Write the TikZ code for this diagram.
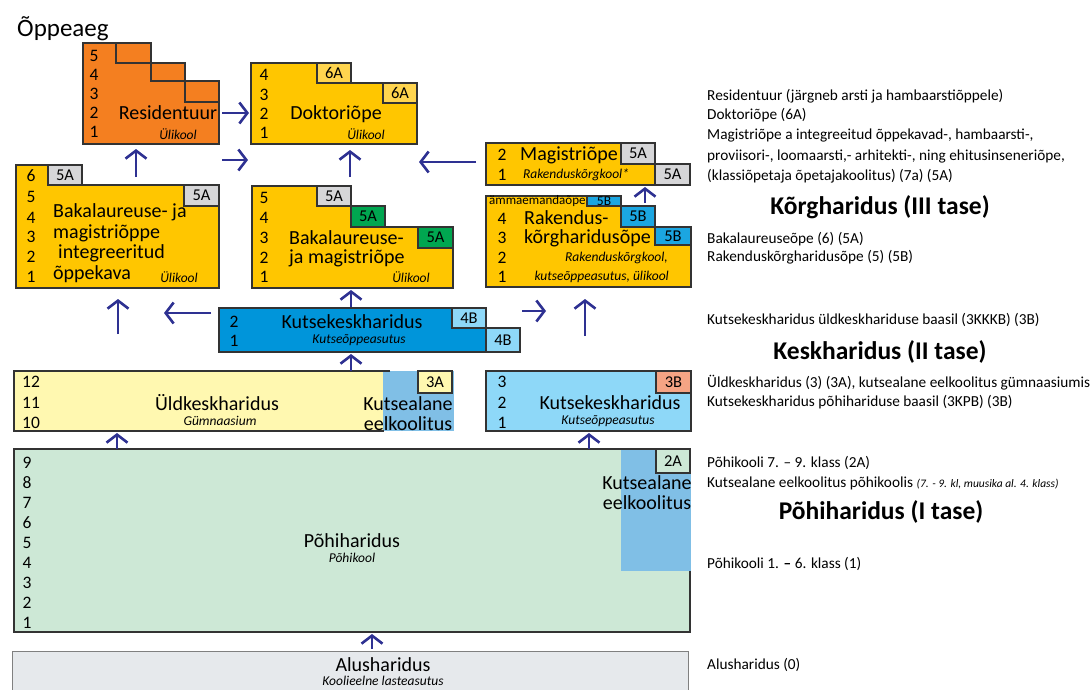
\documentclass[tikz,border=0pt]{standalone}
\usepackage{fontspec}
\setmainfont{Carlito}
\usetikzlibrary{arrows.meta}
\definecolor{bordc}{HTML}{333333}
\definecolor{orangec}{HTML}{F47F20}
\definecolor{goldc}{HTML}{FFC600}
\definecolor{goldlt}{HTML}{FFD54F}
\definecolor{grayb}{HTML}{D6D6D8}
\definecolor{greenb}{HTML}{00A650}
\definecolor{bluec}{HTML}{0095DA}
\definecolor{bluelt}{HTML}{8ED8F8}
\definecolor{blueb}{HTML}{1BA6E1}
\definecolor{paley}{HTML}{FFF8B0}
\definecolor{overb}{HTML}{80BFE6}
\definecolor{salmon}{HTML}{F5A484}
\definecolor{paleg}{HTML}{CDE8D6}
\definecolor{alusc}{HTML}{E6E9EC}
\definecolor{arrc}{HTML}{2E3192}
\begin{document}
\begin{tikzpicture}[x=1pt,y=-1pt,
  boxline/.style={draw=bordc,line width=1.2pt},
  badge/.style={draw=bordc,line width=1.4pt},
  btxt/.style={font=\fontsize{16.5}{17}\selectfont,inner sep=0pt},
  num/.style={font=\fontsize{17.5}{18}\selectfont,inner sep=0pt},
  big/.style={font=\fontsize{20}{21}\selectfont,inner sep=0pt},
  inst/.style={font=\fontsize{13.5}{14}\selectfont\itshape,inner sep=0pt},
  rtxt/.style={font=\fontsize{15.3}{16}\selectfont,anchor=west,inner sep=0pt},
  rhead/.style={font=\fontsize{25.5}{27}\selectfont\bfseries,inner sep=0pt},
  arr/.style={draw=arrc,line width=2.6pt,-{Straight Barb[length=8pt,width=21pt]}}
]
\useasboundingbox (0,0) rectangle (1092,689);
\clip (0,0) rectangle (1092,689);

\node[font=\fontsize{25}{27}\selectfont,anchor=west,inner sep=0pt] (title) at (17,29) {Õppeaeg};

% ---------- Residentuur
\path[fill=orangec,boxline] (83,43) -- (151,43) -- (151,63) -- (185,63) -- (185,81) -- (219,81) -- (219,144) -- (83,144) -- cycle;
\draw[badge,fill=orangec] (116,43) rectangle (151,63);
\draw[badge,fill=orangec] (151,63) rectangle (185,81);
\draw[badge,fill=orangec] (185,81) rectangle (219,102);
\foreach \n/\y in {5/56,4/75,3/94,2/113,1/132} \node[num] at (94,\y) {\n};
\node[big] (res) at (168,113) {Residentuur};
\node[inst] at (178,134) {Ülikool};

% ---------- Doktoriõpe
\path[fill=goldc,boxline] (251,63) -- (351,63) -- (351,83) -- (417,83) -- (417,144) -- (251,144) -- cycle;
\draw[badge,fill=goldlt] (317,63) rectangle node[btxt]{6A} (351,83);
\draw[badge,fill=goldlt] (383,83) rectangle node[btxt]{6A} (417,103);
\foreach \n/\y in {4/75,3/95,2/114,1/133} \node[num] at (264,\y) {\n};
\node[big] (dok) at (336,114) {Doktoriõpe};
\node[inst] at (366,134) {Ülikool};

% ---------- Magistriõpe
\path[fill=goldc,boxline] (486,143) rectangle (655,185);
\draw[badge,fill=grayb] (621,143) rectangle node[btxt]{5A} (655,164);
\draw[badge,fill=grayb] (655,164) rectangle node[btxt]{5A} (690,185);
\node[num] at (502,155) {2};
\node[num] at (502,175) {1};
\node[big] (mag) at (569,155) {Magistriõpe};
\node[inst] at (576,175) {Rakenduskõrgkool*};

% ---------- Rakenduskõrgharidusõpe
\path[fill=goldc,boxline] (486,196) -- (621,196) -- (621,206) -- (655,206) -- (655,227) -- (691,227) -- (691,287) -- (486,287) -- cycle;
\draw[badge,fill=blueb] (587,196) rectangle node[font=\fontsize{13.5}{13}\selectfont,inner sep=0pt]{5B} (621,206);
\draw[badge,fill=blueb] (621,206) rectangle node[btxt]{5B} (655,227);
\draw[badge,fill=blueb] (655,227) rectangle node[btxt]{5B} (691,245);
\node[font=\fontsize{13}{13}\selectfont,anchor=west,inner sep=0pt] at (489,201) {ämmaemandaõpe};
\foreach \n/\y in {4/219,3/238,2/258,1/277} \node[num] at (502,\y) {\n};
\node[font=\fontsize{20}{19}\selectfont,inner sep=0pt,anchor=west,align=left] (rak) at (524,229) {Rakendus-\\kõrgharidusõpe};
\node[inst,anchor=east] at (668,258) {Rakenduskõrgkool,};
\node[inst,anchor=east] at (669,277) {kutseõppeasutus, ülikool};

% ---------- Bakalaureuse- ja magistriõppe integreeritud õppekava
\path[fill=goldc,boxline] (16,165) -- (82,165) -- (82,185) -- (219,185) -- (219,288) -- (16,288) -- cycle;
\draw[badge,fill=grayb] (48,165) rectangle node[btxt]{5A} (82,185);
\draw[badge,fill=grayb] (184,185) rectangle node[btxt]{5A} (219,206);
\foreach \n/\y in {6/176,5/197,4/218,3/237,2/257,1/277} \node[num] at (31,\y) {\n};
\node[big,anchor=west] (intg) at (53,212) {Bakalaureuse- ja};
\node[big,anchor=west] at (53,233) {magistriõppe};
\node[big,anchor=west] at (58,253) {integreeritud};
\node[big,anchor=west] at (53,274) {õppekava};
\node[inst] at (179,277) {Ülikool};

% ---------- Bakalaureuse- ja magistriõpe
\path[fill=goldc,boxline] (252,186) -- (351,186) -- (351,206) -- (385,206) -- (385,227) -- (453,227) -- (453,288) -- (252,288) -- cycle;
\draw[badge,fill=grayb] (317,186) rectangle node[btxt]{5A} (351,206);
\draw[badge,fill=greenb] (351,206) rectangle node[btxt]{5A} (385,227);
\draw[badge,fill=greenb] (418,227) rectangle node[btxt]{5A} (453,248);
\foreach \n/\y in {5/198,4/218,3/238,2/258,1/277} \node[num] at (264,\y) {\n};
\node[big,anchor=west] (bak) at (289,238) {Bakalaureuse-};
\node[big,anchor=west] at (289,258) {ja magistriõpe};
\node[inst] at (411,277) {Ülikool};

% ---------- Kutsekeskharidus 4B
\path[fill=bluec,boxline] (219,308) rectangle (486,352);
\draw[badge,fill=bluelt] (452,308) rectangle node[btxt]{4B} (486,328);
\draw[badge,fill=bluelt] (486,328) rectangle node[btxt]{4B} (520,352);
\node[num] at (234,322) {2};
\node[num] at (234,341) {1};
\node[big] (kk4) at (352,322) {Kutsekeskharidus};
\node[inst] at (359,340) {Kutseõppeasutus};

% ---------- Üldkeskharidus
\fill[paley] (14,371) rectangle (384,431);
\fill[overb] (383,371) rectangle (454,431);
\draw[boxline] (390,371) -- (14,371) -- (14,431) -- (384,431);
\draw[badge,fill=paley] (418,371) rectangle node[btxt]{3A} (452,393);
\foreach \n/\y in {12/382,11/403,10/423} \node[num] at (31,\y) {\n};
\node[big] (uld) at (217,403) {Üldkeskharidus};
\node[inst] at (220,421) {Gümnaasium};
\node[big] at (408,404) {Kutsealane};
\node[big] at (408,424) {eelkoolitus};

% ---------- Kutsekeskharidus 3B
\path[fill=bluelt,boxline] (486,371) rectangle (691,431);
\draw[badge,fill=salmon] (656,371) rectangle node[btxt]{3B} (691,393);
\foreach \n/\y in {3/382,2/403,1/423} \node[num] at (502,\y) {\n};
\node[big] (kk3) at (610,403) {Kutsekeskharidus};
\node[inst] at (608,421) {Kutseõppeasutus};

% ---------- Põhiharidus
\path[fill=paleg,boxline] (14,449) rectangle (690,632);
\fill[overb] (621,449.6) rectangle (690.6,571);
\draw[badge,fill=paleg] (656,449) rectangle node[btxt]{2A} (690,473);
\foreach \n/\y in {9/463,8/483,7/503,6/523,5/543,4/563,3/583,2/603,1/623} \node[num] at (27,\y) {\n};
\node[big] (poh) at (352,541) {Põhiharidus};
\node[inst] at (352,558) {Põhikool};
\node[big] at (647,483) {Kutsealane};
\node[big] at (647,503) {eelkoolitus};

% ---------- Alusharidus
\path[fill=alusc,draw=gray,line width=1pt] (12,651) rectangle (688,705);
\node[big] (alu) at (383,665) {Alusharidus};
\node[inst] at (383,681) {Koolieelne lasteasutus};

% ---------- arrows
\coordinate (a1s) at (222,113); \coordinate (a1e) at (249,113);
\coordinate (a2s) at (136,177); \coordinate (a2e) at (136,149);
\coordinate (a3s) at (222,160); \coordinate (a3e) at (248,160);
\coordinate (a4s) at (350,177); \coordinate (a4e) at (350,150);
\coordinate (a5s) at (476,162); \coordinate (a5e) at (419,162);
\coordinate (a6s) at (645,203); \coordinate (a6e) at (645,187);
\coordinate (a7s) at (351,307); \coordinate (a7e) at (351,290);
\coordinate (a8s) at (118,334); \coordinate (a8e) at (118,299);
\coordinate (a9s) at (211,313); \coordinate (a9e) at (164,313);
\coordinate (a10s) at (522,311); \coordinate (a10e) at (546,311);
\coordinate (a11s) at (585,336); \coordinate (a11e) at (585,299);
\coordinate (a12s) at (351,371); \coordinate (a12e) at (351,354);
\coordinate (a13s) at (117,449); \coordinate (a13e) at (117,433);
\coordinate (a14s) at (589,449); \coordinate (a14e) at (589,433);
\coordinate (a15s) at (372,649); \coordinate (a15e) at (372,634);
\foreach \i in {1,...,15} \draw[arr] (a\i s) -- (a\i e);

% ---------- right-hand texts
\node[rtxt] (r1) at (707,96) {Residentuur (järgneb arsti ja hambaarstiõppele)};
\node[rtxt] at (707,115) {Doktoriõpe (6A)};
\node[rtxt] at (707,135) {Magistriõpe a integreeitud õppekavad-, hambaarsti-,};
\node[rtxt] at (707,156) {proviisori-, loomaarsti,- arhitekti-, ning ehitusinseneriõpe,};
\node[rtxt] at (707,176) {(klassiõpetaja õpetajakoolitus) (7a) (5A)};
\node[rhead] (h3) at (880,207) {Kõrgharidus (III tase)};
\node[rtxt] at (707,239) {Bakalaureuseõpe (6) (5A)};
\node[rtxt] at (707,257) {Rakenduskõrgharidusõpe (5) (5B)};
\node[rtxt] at (707,320) {Kutsekeskharidus üldkeskhariduse baasil (3KKKB) (3B)};
\node[rhead] (h2) at (880,352) {Keskharidus (II tase)};
\node[rtxt] at (707,383) {Üldkeskharidus (3) (3A), kutsealane eelkoolitus gümnaasiumis};
\node[rtxt] at (707,402) {Kutsekeskharidus põhihariduse baasil (3KPB) (3B)};
\node[rtxt] at (707,463) {Põhikooli 7. – 9. klass (2A)};
\node[rtxt] at (707,483) {Kutsealane eelkoolitus põhikoolis {\fontsize{11.5}{12}\selectfont\itshape (7. - 9. kl, muusika al. 4. klass)}};
\node[rhead] (h1) at (881,512) {Põhiharidus (I tase)};
\node[rtxt] at (707,564) {Põhikooli 1. \textbf{–} 6. klass (1)};
\node[rtxt] at (707,665) {Alusharidus (0)};
\end{tikzpicture}
\end{document}
